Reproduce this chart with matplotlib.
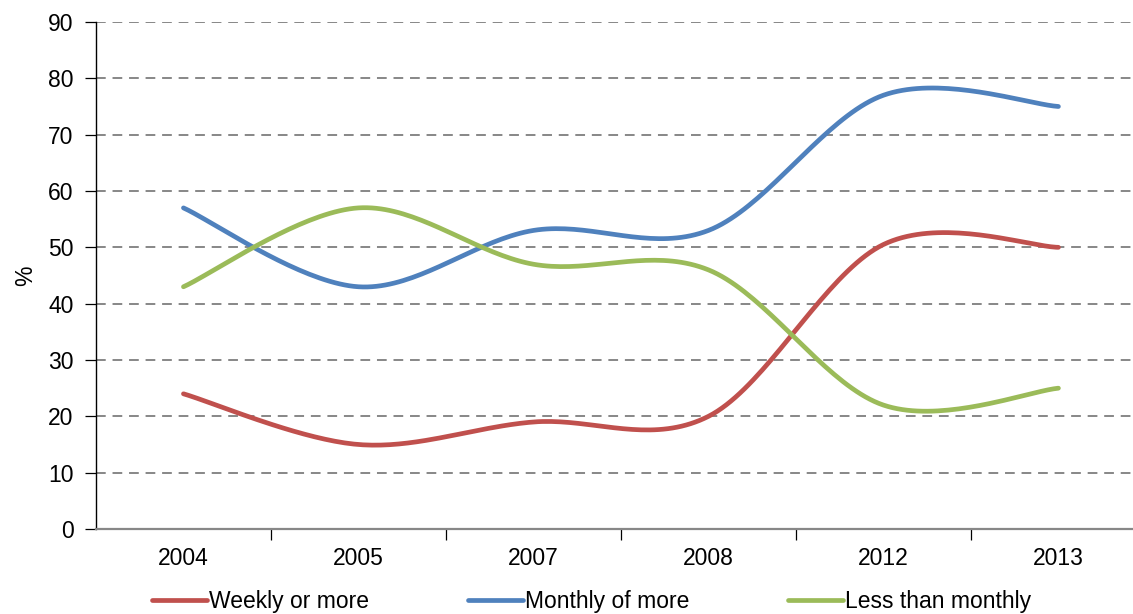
import matplotlib
matplotlib.use("Agg")
import matplotlib.pyplot as plt
import numpy as np
from matplotlib.ticker import FixedLocator, MultipleLocator

years = ["2004", "2005", "2007", "2008", "2012", "2013"]
weekly = [24, 15, 19, 20, 50.5, 50]
monthly = [57, 43, 53, 53, 77, 75]
less_monthly = [43, 57, 47, 46, 22, 25]

series = [
    ("Weekly or more", weekly, "#C0504D"),
    ("Monthly of more", monthly, "#4F81BD"),
    ("Less than monthly", less_monthly, "#9BBB59"),
]

plt.rcParams["font.family"] = ["Liberation Sans", "DejaVu Sans"]
plt.rcParams["font.size"] = 16.5


def smooth_line(xs, ys, n=40):
    """Cubic Bezier through the points, Catmull-Rom style control points."""
    pts = np.column_stack([np.asarray(xs, float), np.asarray(ys, float)])
    padded = np.vstack([pts[0], pts, pts[-1]])
    t = np.linspace(0.0, 1.0, n)[:, None]
    out = []
    for i in range(len(pts) - 1):
        p0, p1, p2, p3 = padded[i], padded[i + 1], padded[i + 2], padded[i + 3]
        c1 = p1 + (p2 - p0) / 6.0
        c2 = p2 - (p3 - p1) / 6.0
        seg = ((1 - t) ** 3) * p1 + 3 * ((1 - t) ** 2) * t * c1 + 3 * (1 - t) * t**2 * c2 + t**3 * p2
        out.append(seg if i == 0 else seg[1:])
    curve = np.vstack(out)
    return curve[:, 0], curve[:, 1]


fig = plt.figure(figsize=(11.33, 6.14), dpi=100)
ax = fig.add_axes([0.0847, 0.1384, 0.9267, 0.8258])

x = np.arange(len(years))
for label, values, color in series:
    sx, sy = smooth_line(x, values)
    ax.plot(sx, sy, color=color, lw=3.4, solid_capstyle="round", label=label, zorder=3)

ax.set_xlim(-0.5, len(years) - 0.5)
ax.set_ylim(0, 90)
ax.yaxis.set_major_locator(MultipleLocator(10))
ax.set_xticks(x)
ax.set_xticklabels(years)
ax.xaxis.set_minor_locator(FixedLocator(np.arange(0.5, len(years) - 1, 1.0)))
ax.tick_params(axis="x", which="major", length=0, pad=13)
ax.tick_params(axis="x", which="minor", length=8, width=0.9, color="black", direction="out")
ax.tick_params(axis="y", length=8, width=0.9, direction="out", pad=8)

for v in range(10, 91, 10):
    ax.axhline(v, color="#878787", lw=1.4, ls=(0, (5, 3.5)), zorder=1)

for side in ("top", "right"):
    ax.spines[side].set_visible(False)
ax.spines["left"].set_color("black")
ax.spines["left"].set_linewidth(1.0)
ax.spines["bottom"].set_color("#878787")
ax.spines["bottom"].set_linewidth(1.6)

ax.set_ylabel("%", labelpad=8)

fig.legend(
    loc="center",
    bbox_to_anchor=(0.522, 0.02),
    ncol=3,
    frameon=False,
    handlelength=2.4,
    handletextpad=0.1,
    columnspacing=4.3,
    borderaxespad=0,
)

fig.savefig("out.png", dpi=100)
